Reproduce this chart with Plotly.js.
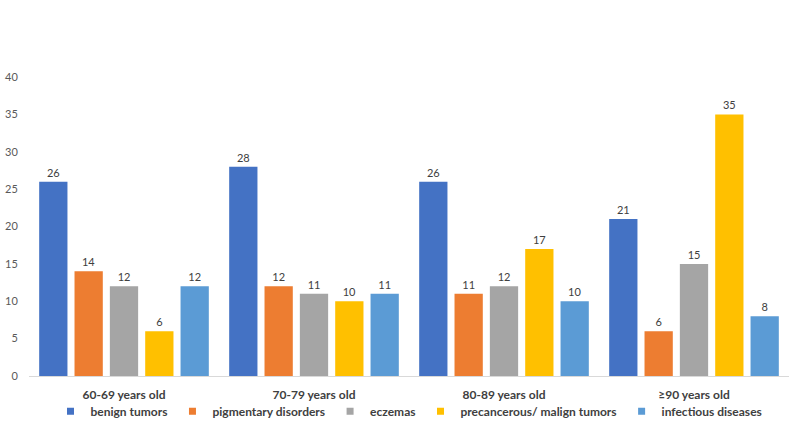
<!DOCTYPE html>
<html>
<head>
<meta charset="utf-8">
<script src="https://cdn.plot.ly/plotly-3.0.1.min.js"></script>
<style>html,body{margin:0;padding:0;background:#fff;}</style>
</head>
<body>
<div id="chart" style="width:799px;height:436px;"></div>
<script>
const categories = ["60-69 years old", "70-79 years old", "80-89 years old", "≥90 years old"];
const seriesNames = ["benign tumors", "pigmentary disorders", "eczemas", "precancerous/ malign tumors", "infectious diseases"];
const benign = [26, 28, 26, 21];
const pigmentary = [14, 12, 11, 6];
const eczemas = [12, 11, 12, 15];
const precancerous = [6, 10, 17, 35];
const infectious = [12, 11, 10, 8];
const yTicks = [0, 5, 10, 15, 20, 25, 30, 35, 40];

const seriesValues = [benign, pigmentary, eczemas, precancerous, infectious];
const colors = ["#4472C4", "#ED7D31", "#A5A5A5", "#FFC000", "#5B9BD5"];
const FONT = "Lato, 'Open Sans', sans-serif";

const barTraces = seriesValues.map((vals, i) => ({
  type: "bar",
  name: seriesNames[i],
  x: categories,
  y: vals,
  text: vals.map(String),
  textposition: "outside",
  cliponaxis: false,
  textfont: {family: FONT, size: 11, color: "#404040"},
  marker: {color: colors[i]},
  showlegend: false,
  legendgroup: "g" + i
}));

// legend-only entries with small square symbols
const legendTraces = seriesNames.map((name, i) => ({
  type: "scatter",
  mode: "markers",
  name: name,
  x: [categories[0]],
  y: [null],
  marker: {color: colors[i], symbol: "square", size: 7},
  showlegend: true,
  legendgroup: "g" + i
}));

const layout = {
  width: 799,
  height: 436,
  margin: {l: 29, r: 10, t: 77, b: 56},
  paper_bgcolor: "#ffffff",
  plot_bgcolor: "#ffffff",
  barmode: "group",
  bargap: 0.07,
  bargroupgap: 0.2,
  font: {family: FONT, color: "#595959"},
  xaxis: {
    type: "category",
    automargin: false,
    showline: true,
    linecolor: "#D9D9D9",
    linewidth: 1,
    showgrid: false,
    ticks: "outside",
    ticklen: 8,
    tickcolor: "rgba(0,0,0,0)",
    tickfont: {family: FONT, size: 12, color: "#404040", weight: "bold"}
  },
  yaxis: {
    automargin: false,
    range: [0, 40],
    tickvals: yTicks,
    ticktext: yTicks.map(String),
    showgrid: false,
    zeroline: false,
    showline: false,
    ticks: "outside",
    ticklen: 8,
    tickcolor: "rgba(0,0,0,0)",
    tickfont: {family: FONT, size: 11, color: "#595959"}
  },
  legend: {
    orientation: "h",
    x: 0.5,
    xanchor: "center",
    y: -0.118,
    yanchor: "middle",
    bgcolor: "rgba(0,0,0,0)",
    font: {family: FONT, size: 12, color: "#404040", weight: "bold"},
    itemwidth: 30,
    tracegroupgap: 0,
    traceorder: "normal"
  },
  showlegend: true
};

Plotly.newPlot("chart", barTraces.concat(legendTraces), layout, {displayModeBar: false, staticPlot: true});
</script>
</body>
</html>
